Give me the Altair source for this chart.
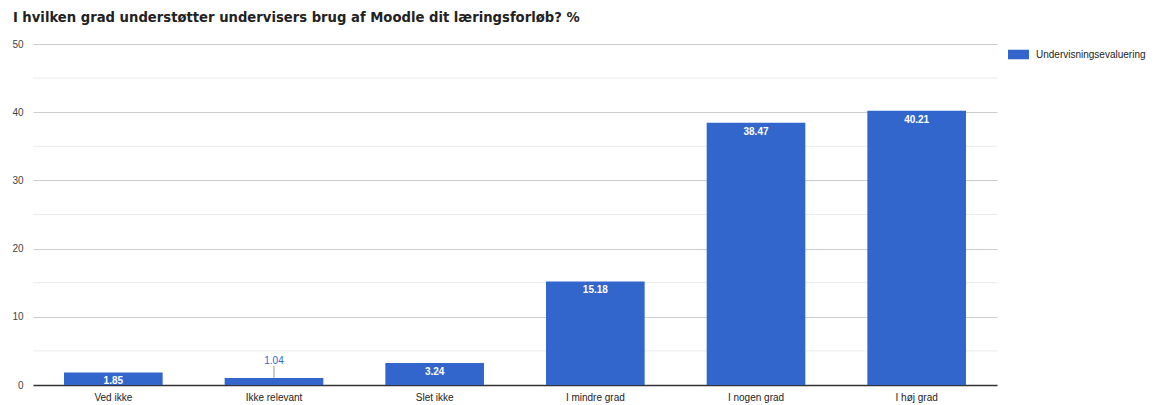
import altair as alt
import pandas as pd

categories = ["Ved ikke", "Ikke relevant", "Slet ikke", "I mindre grad", "I nogen grad", "I høj grad"]
values = [1.85, 1.04, 3.24, 15.18, 38.47, 40.21]
series_name = "Undervisningsevaluering"
title_text = "I hvilken grad understøtter undervisers brug af Moodle dit læringsforløb? %"
major_ticks = [0, 10, 20, 30, 40, 50]
minor_ticks = [5, 15, 25, 35, 45]

df = pd.DataFrame({"kategori": categories, "værdi": values, "serie": [series_name] * len(categories)})
minor_df = pd.DataFrame({"v": minor_ticks})

BLUE = "#3366cc"
FONT = "Liberation Sans"

x_enc = alt.X(
    "kategori:N",
    sort=categories,
    scale=alt.Scale(paddingInner=0.386, paddingOuter=0.193),
    axis=alt.Axis(
        title=None, labelAngle=0, ticks=False, domainColor="#333333", domainWidth=1.5,
        labelFont=FONT, labelFontSize=10, labelColor="#222222", labelPadding=7, grid=False,
    ),
)
y_scale = alt.Scale(domain=[0, 50], nice=False)
y_axis = alt.Axis(
    title=None, values=major_ticks, ticks=False, domain=False,
    labelFont=FONT, labelFontSize=10, labelColor="#444444", labelPadding=10,
    gridColor="#cccccc",
)

minor_grid = alt.Chart(minor_df).mark_rule(color="#ebebeb", strokeWidth=1).encode(
    y=alt.Y("v:Q", scale=y_scale, axis=y_axis)
)

base = alt.Chart(df)

bars = base.mark_bar(color=BLUE).encode(
    x=x_enc,
    y=alt.Y("værdi:Q", scale=y_scale, axis=y_axis),
    color=alt.Color(
        "serie:N",
        scale=alt.Scale(range=[BLUE]),
        legend=alt.Legend(
            title=None, orient="none", legendX=975, legendY=0,
            symbolType="M-1,-0.4545H1V0.4545H-1Z", symbolSize=441, symbolStrokeWidth=0,
            symbolOpacity=1, labelFont=FONT, labelFontSize=10, labelColor="#222222", labelOffset=7,
        ),
    ),
)

inside = base.transform_filter("datum['værdi'] >= 1.5").mark_text(
    color="white", font=FONT, fontSize=10, fontWeight="bold", baseline="alphabetic", dy=12,
).encode(x=alt.X("kategori:N", sort=categories), y=alt.Y("værdi:Q", scale=y_scale), text=alt.Text("værdi:Q", format=".2f"))

outside_rule = base.transform_filter("datum['værdi'] < 1.5").mark_rule(
    color="#999999", strokeWidth=1, y2Offset=-12,
).encode(x=alt.X("kategori:N", sort=categories), y=alt.Y("værdi:Q", scale=y_scale), y2="værdi:Q")

outside_text = base.transform_filter("datum['værdi'] < 1.5").mark_text(
    color=BLUE, font=FONT, fontSize=10, baseline="alphabetic", dy=-14,
).encode(x=alt.X("kategori:N", sort=categories), y=alt.Y("værdi:Q", scale=y_scale), text=alt.Text("værdi:Q", format=".2f"))

chart = alt.layer(minor_grid, bars, inside, outside_rule, outside_text).properties(
    width=964,
    height=341,
    title=alt.Title(
        title_text, anchor="start", font="DejaVu Sans", fontSize=13.2, fontWeight="bold",
        color="#222222", offset=14, dx=1,
    ),
    autosize=alt.AutoSizeParams(type="none"),
    padding={"left": 25, "top": 36, "right": 150, "bottom": 20},
).configure_view(stroke=None)

chart.save("out.html", embed_options={"renderer": "svg", "actions": False})
